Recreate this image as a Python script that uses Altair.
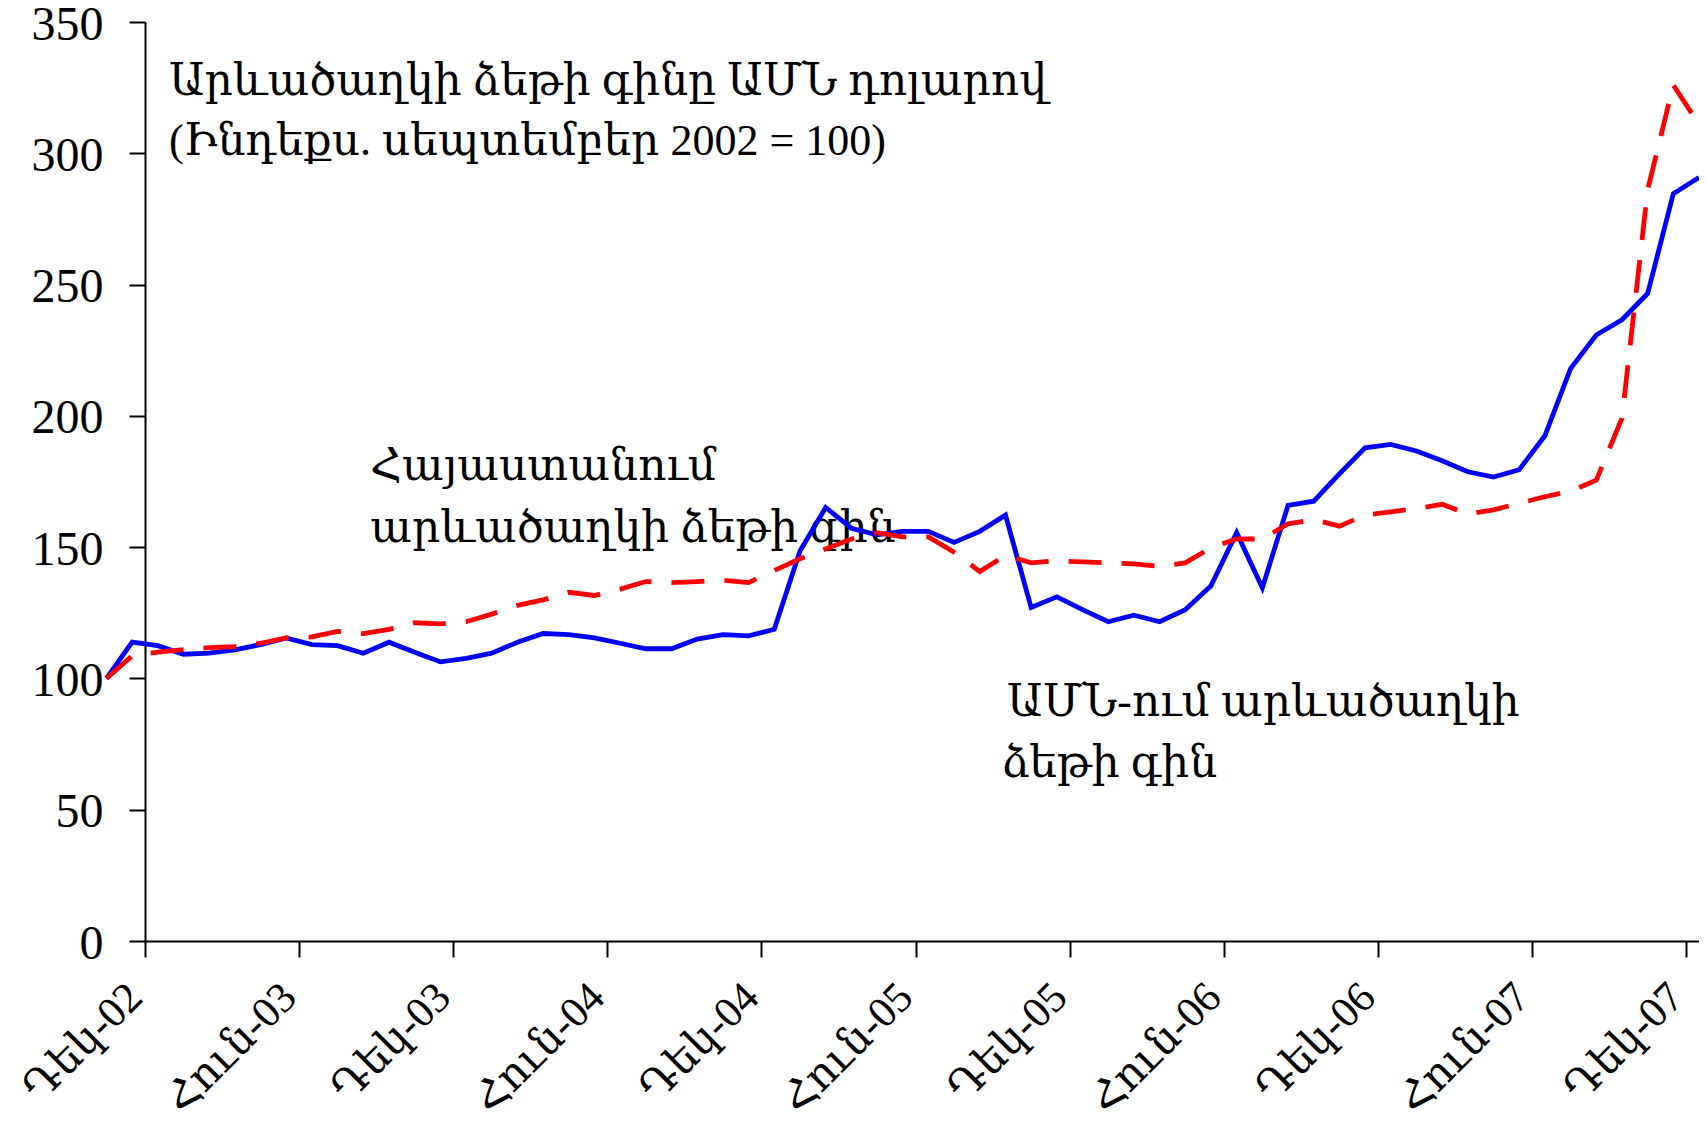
import altair as alt
import pandas as pd

# month positions (0 = first observation)
month_idx = list(range(63))

usa = [100, 113.8, 112.5, 109.2, 109.6, 110.9, 112.9, 115.4, 112.9, 112.5,
       109.6, 113.8, 110.0, 106.3, 107.6, 109.6, 113.8, 117.1, 116.7, 115.4,
       113.4, 111.3, 111.3, 115.0, 116.7, 116.2, 118.7, 148.5, 165.1, 157.2,
       154.7, 156.0, 156.0, 151.8, 156.0, 162.2, 127.0, 131.1, 126.2, 121.6,
       124.1, 121.6, 126.2, 135.3, 155.5, 134.5, 165.9, 167.5, 177.9, 187.8,
       189.1, 186.6, 182.9, 178.7, 176.7, 179.5, 192.4, 218.0, 230.8, 236.6,
       246.6, 284.6, 290.8]

armenia = [100, 108.6, 110, 111, 111.7, 112.1, 113.4, 115.4, 115.8, 117.9,
           117.1, 118.7, 121.2, 120.8, 121.6, 124.5, 127.8, 129.9, 132.8, 131.6,
           134.0, 136.9, 136.5, 136.9, 137.4, 136.5, 141.1, 145.6, 149.3, 153.1,
           155.5, 153.9, 153.9, 148.1, 140.7, 146.9, 144.0, 144.8, 144.4, 144.0,
           143.6, 142.7, 144.0, 149.8, 153.1, 153.1, 158.9, 160.5, 158.0, 162.2,
           163.4, 164.7, 166.3, 162.6, 164.2, 166.7, 169.2, 171.3, 175.5, 199,
           286, 326, 311]

tick_pos = [1.5 + 6 * k for k in range(11)]
tick_labels = ["Դեկ-02", "Հուն-03", "Դեկ-03", "Հուն-04", "Դեկ-04", "Հուն-05",
               "Դեկ-05", "Հուն-06", "Դեկ-06", "Հուն-07", "Դեկ-07"]
y_ticks = [0, 50, 100, 150, 200, 250, 300, 350]

note_text = ["Արևածաղկի ձեթի գինը ԱՄՆ դոլարով",
             "(Ինդեքս. սեպտեմբեր 2002 = 100)",
             "Հայաստանում",
             "արևածաղկի ձեթի գին",
             "ԱՄՆ-ում արևածաղկի",
             "ձեթի գին"]
note_x = [2.43, 2.43, 10.27, 10.27, 35.06, 34.85]
note_y = [322.3, 299.5, 175.4, 151.9, 85.7, 62.6]

FONT = "Liberation Serif, DejaVu Serif, serif"

df_usa = pd.DataFrame({"idx": month_idx, "value": usa})
df_arm = pd.DataFrame({"idx": month_idx, "value": armenia})
df_notes = pd.DataFrame({"idx": note_x, "value": note_y, "label": note_text})

label_list = "[" + ",".join("'" + s + "'" for s in tick_labels) + "]"

x_enc = alt.X("idx:Q",
              scale=alt.Scale(domain=[1.5, 62.0], nice=False, zero=False),
              axis=alt.Axis(values=tick_pos,
                            labelExpr=label_list + "[round((datum.value - 1.5) / 6)]",
                            labelAngle=-45, labelAlign="right", labelBaseline="middle",
                            labelPadding=33, labelOffset=-10, labelFontSize=43,
                            labelOverlap=False, labelFlush=False, title=None,
                            tickSize=16))
y_enc = alt.Y("value:Q",
              scale=alt.Scale(domain=[0, 350], nice=False),
              axis=alt.Axis(values=y_ticks, labelPadding=26, labelFontSize=48,
                            labelOverlap=False, labelFlush=False, labelOffset=3,
                            title=None, tickSize=16))

notes = alt.Chart(df_notes).mark_text(
    align="left", baseline="alphabetic", font=FONT, fontSize=44, color="black"
).encode(x=x_enc, y=y_enc, text="label:N")

line_usa = alt.Chart(df_usa).mark_line(color="#0000FF", strokeWidth=4.8).encode(
    x=x_enc, y=y_enc)
line_arm = alt.Chart(df_arm).mark_line(
    color="#FF0000", strokeWidth=4.8, strokeDash=[33, 20]).encode(x=x_enc, y=y_enc)

chart = alt.layer(notes, line_usa, line_arm).properties(
    width=1554, height=919,
    autosize=alt.AutoSizeParams(type="none"),
    padding={"left": 137, "top": 14, "right": 0, "bottom": 182},
    background="white",
).configure_view(stroke=None).configure_axis(
    grid=False, domainColor="black", domainWidth=2, tickColor="black",
    tickWidth=2, labelColor="black", labelFont=FONT
)

chart.save("out.html", embed_options={"renderer": "svg", "actions": False})
